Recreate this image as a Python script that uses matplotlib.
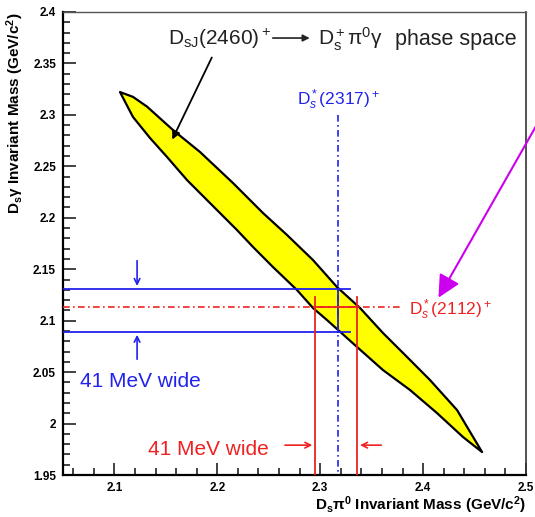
import numpy as np
import matplotlib
matplotlib.use("Agg")
import matplotlib.pyplot as plt
from matplotlib.ticker import FixedLocator, FixedFormatter, MultipleLocator

plt.rcParams['font.family'] = ['Liberation Sans', 'DejaVu Sans']
plt.rcParams['mathtext.fontset'] = 'custom'
plt.rcParams['mathtext.rm'] = 'Liberation Sans'
plt.rcParams['mathtext.it'] = 'Liberation Sans:italic'
plt.rcParams['mathtext.bf'] = 'Liberation Sans:bold'

# Phase-space boundary (upper-right edge and lower-left edge)
upper_x = [2.1054, 2.1180, 2.1317, 2.1569, 2.1832, 2.2152, 2.2444, 2.2677, 2.2930,
           2.3163, 2.3387, 2.3610, 2.3844, 2.4067, 2.4330, 2.4573]
upper_y = [2.3222, 2.3175, 2.3080, 2.2853, 2.2639, 2.2338, 2.2046, 2.1833, 2.1589,
           2.1327, 2.1123, 2.0880, 2.0647, 2.0423, 2.0131, 1.9723]
lower_x = [2.1054, 2.1180, 2.1346, 2.1511, 2.1705, 2.1861, 2.2026, 2.2191, 2.2347,
           2.2541, 2.2774, 2.2930, 2.3066, 2.3358, 2.3610, 2.3873, 2.4135, 2.4388, 2.4573]
lower_y = [2.3222, 2.2980, 2.2775, 2.2591, 2.2367, 2.2211, 2.2046, 2.1881, 2.1716,
           2.1521, 2.1298, 2.1123, 2.1006, 2.0744, 2.0520, 2.0326, 2.0102, 1.9869, 1.9723]

# Reference lines
ds2112_y = 2.113            # D*s(2112)+ mass line
blue_band = [2.131, 2.089]  # 41 MeV window in y
ds2317_x = 2.317            # D*sJ(2317)+ line
red_band = [2.295, 2.336]   # 41 MeV window in x

xticks = [2.1, 2.2, 2.3, 2.4, 2.5]
xtick_labels = ['2.1', '2.2', '2.3', '2.4', '2.5']
yticks = [1.95, 2.0, 2.05, 2.1, 2.15, 2.2, 2.25, 2.3, 2.35, 2.4]
ytick_labels = ['1.95', '2', '2.05', '2.1', '2.15', '2.2', '2.25', '2.3', '2.35', '2.4']

fig = plt.figure(figsize=(5.35, 5.17), dpi=100)
ax = fig.add_axes([63/535, 42/517, 463/535, 463/517])
ax.set_xlim(2.05, 2.5)
ax.set_ylim(1.95, 2.4)

# phase space region
px = np.concatenate([upper_x, lower_x[::-1]])
py = np.concatenate([upper_y, lower_y[::-1]])
ax.fill(px, py, facecolor='#ffff00', edgecolor='black', linewidth=1.6,
        joinstyle='round', zorder=2)

blue = '#2222ee'
red = '#ee2222'

# blue horizontal lines
for yb in blue_band:
    ax.plot([2.05, 2.329], [yb, yb], color=blue, lw=1.3, zorder=3)
# blue vertical D*sJ(2317)
ax.plot([ds2317_x, ds2317_x], [2.300, 1.95], color=blue, lw=1.2, ls=(0, (4, 2, 1, 2)), zorder=3)
ax.plot([ds2317_x, ds2317_x], [blue_band[0], blue_band[1]], color=blue, lw=1.3, zorder=3)
ax.text(2.2775, 2.3096, r'D$_s^*$(2317)$^+$', color=blue, fontsize=12.5,
        va='baseline', ha='left')

# red horizontal D*s(2112)
ax.plot([2.05, 2.3805], [ds2112_y, ds2112_y], color=red, lw=1.2, ls=(0, (4, 2, 1, 2)), zorder=3)
ax.plot([red_band[0], red_band[1]], [ds2112_y, ds2112_y], color=red, lw=1.3, zorder=3)
for xr in red_band:
    ax.plot([xr, xr], [2.123, 1.95], color=red, lw=1.3, zorder=3)
ax.text(2.386, 2.1055, r'D$_s^*$(2112)$^+$', color=red, fontsize=12.5,
        va='baseline', ha='left')

# blue arrows
ax.annotate('', xy=(2.122, blue_band[0]), xytext=(2.122, 2.161),
            arrowprops=dict(arrowstyle='->', color=blue, lw=1.2, mutation_scale=10))
ax.annotate('', xy=(2.122, blue_band[1]), xytext=(2.122, 2.0598),
            arrowprops=dict(arrowstyle='->', color=blue, lw=1.2, mutation_scale=10))
ax.text(2.0665, 2.0355, '41 MeV wide', color=blue, fontsize=15, va='baseline', ha='left')

# red arrows
ax.annotate('', xy=(red_band[0], 1.979), xytext=(2.263, 1.979),
            arrowprops=dict(arrowstyle='->', color=red, lw=1.2, mutation_scale=10))
ax.annotate('', xy=(red_band[1], 1.979), xytext=(2.362, 1.979),
            arrowprops=dict(arrowstyle='->', color=red, lw=1.2, mutation_scale=10))
ax.text(2.1326, 1.9694, '41 MeV wide', color=red, fontsize=15, va='baseline', ha='left')

# title annotation (three pieces and an arrow)
tcol = '#222222'
ax.text(2.1521, 2.368, r'D$_{\rm sJ}$(2460)$^+$', fontsize=15, color=tcol,
        va='baseline', ha='left', zorder=5)
ax.annotate('', xy=(2.2925, 2.3747), xytext=(2.2512, 2.3747),
            arrowprops=dict(arrowstyle='-|>', color=tcol, lw=1.2, mutation_scale=10))
ax.text(2.2979, 2.368, r'D$_{\rm s}^+$' + '\u03c0' + r'$^0$' + '\u03b3', fontsize=15,
        color=tcol, va='baseline', ha='left', zorder=5)
ax.text(2.3727, 2.368, 'phase space', fontsize=15.5, color=tcol,
        va='baseline', ha='left', zorder=5)
ax.annotate('', xy=(2.155, 2.2736), xytext=(2.1958, 2.3582),
            arrowprops=dict(arrowstyle='-|>', color='black', lw=1.3, mutation_scale=12))

# magenta arrow from outside
ax.annotate('', xy=(2.4136, 2.120), xytext=(2.5214, 2.3096),
            annotation_clip=False,
            arrowprops=dict(arrowstyle='-|>', color='#cc00ee', lw=1.5, mutation_scale=34))

# axes styling
ax.xaxis.set_major_locator(FixedLocator(xticks))
ax.xaxis.set_major_formatter(FixedFormatter(xtick_labels))
ax.yaxis.set_major_locator(FixedLocator(yticks))
ax.yaxis.set_major_formatter(FixedFormatter(ytick_labels))
ax.xaxis.set_minor_locator(MultipleLocator(0.02))
ax.yaxis.set_minor_locator(MultipleLocator(0.01))
ax.tick_params(which='both', direction='in', width=1.2, color='#222222')
ax.tick_params(which='major', length=9, labelsize=8.5, pad=5)
ax.tick_params(which='minor', length=5)
for lbl in ax.get_xticklabels() + ax.get_yticklabels():
    lbl.set_fontweight('bold')
ax.spines['left'].set_linewidth(1.6)
ax.spines['bottom'].set_linewidth(1.6)
ax.spines['top'].set_linewidth(1.0)
ax.spines['right'].set_linewidth(1.2)
ax.spines['top'].set_color('#555555')
ax.spines['right'].set_color('#333333')

fig.text(526/535, 1 - 505/517, r'D$_{\bf s}$$\bf\pi^0$ Invariant Mass (GeV/c$^{\bf 2}$)',
         fontsize=11, ha='right', va='center', fontweight='bold')
fig.text(15/535, 1 - 12/517, r'D$_{\bf s}$$\bf\gamma$ Invariant Mass (GeV/c$^{\bf 2}$)',
         fontsize=11, ha='center', va='top', rotation=90, fontweight='bold')

fig.savefig('out.png', dpi=100)
